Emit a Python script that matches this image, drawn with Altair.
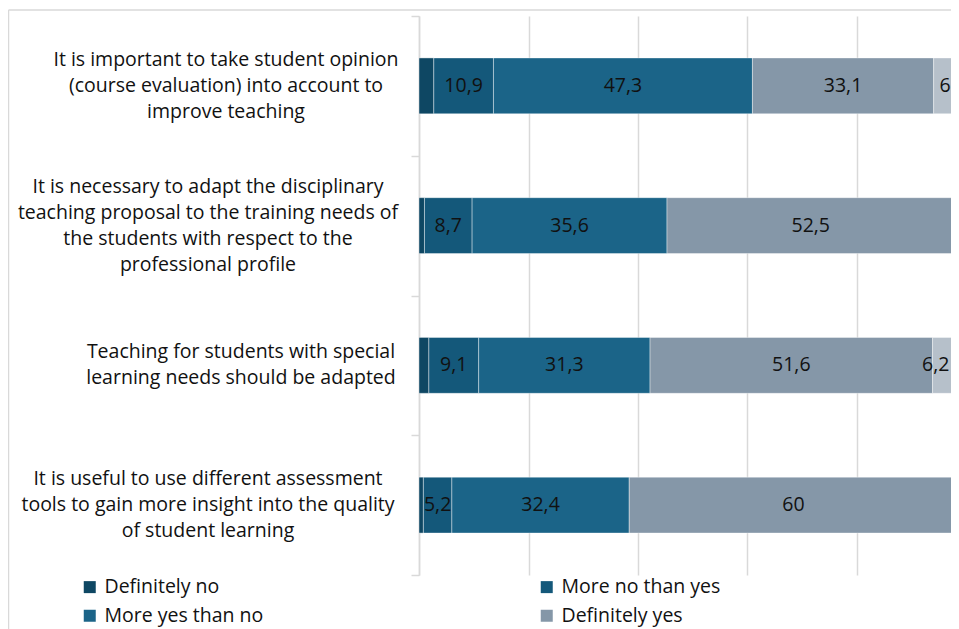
import altair as alt
import pandas as pd

# ---------------- data ----------------
questions = [
    "It is important to take student opinion\n(course evaluation) into account to\nimprove teaching",
    "It is necessary to adapt the disciplinary\nteaching proposal to the training needs of\nthe students with respect to the\nprofessional profile",
    "Teaching for students with special\nlearning needs should be adapted",
    "It is useful to use different assessment\ntools to gain more insight into the quality\nof student learning",
]
levels = ["Definitely no", "More no than yes", "More yes than no", "Definitely yes", "Don't know"]
definitely_no = [2.7, 1.0, 1.8, 0.8]
more_no_than_yes = [10.9, 8.7, 9.1, 5.2]
more_yes_than_no = [47.3, 35.6, 31.3, 32.4]
definitely_yes = [33.1, 52.5, 51.6, 60.0]
dont_know = [6.0, 2.2, 6.2, 1.6]

series = [definitely_no, more_no_than_yes, more_yes_than_no, definitely_yes, dont_know]
rows = []
for qi, q in enumerate(questions):
    for li, lev in enumerate(levels):
        rows.append({"question": q, "level": lev, "ord": li, "value": series[li][qi]})
df = pd.DataFrame(rows)

# ---------------- style / layout ----------------
FONT = "Open Sans"
FS = 19.5
TXT = "#111111"
GRID = "#d9d9d9"
colors = ["#0e4763", "#14587a", "#1b6488", "#8597a8", "#b6c0ca"]
LEFT, TOP = 411, 8
W = 943 - LEFT          # plot area reaches the right edge of the page
H = 559
SVG_H = 621
BOTTOM = SVG_H - TOP - H
PX_PER_UNIT = 5.475
XMAX = W / PX_PER_UNIT
LABEL_CX = [226, 208, 241, 208]  # page x of the centre of each category label block
LINE_H = 26

stacked = (
    alt.Chart(df)
    .transform_stack(stack="value", groupby=["question"],
                     sort=[alt.SortField("ord", order="ascending")], as_=["v0", "v1"])
    .transform_calculate(
        lbl="datum.value >= 5 ? replace(format(datum.value, '.1~f'), '.', ',') : ''",
    )
    .transform_calculate(
        mid=f"min((datum.v0 + datum.v1) / 2, {XMAX} - (length(datum.lbl) * 0.85 + 0.25))",
    )
)

ysort = questions
bars = stacked.mark_bar(clip=True, stroke="white", strokeWidth=0.8, strokeOpacity=0.5,
                        height=alt.RelativeBandSize(band=0.4)).encode(
    x=alt.X("v0:Q", scale=alt.Scale(domain=[0, XMAX], nice=False, zero=True),
            axis=alt.Axis(values=[0, 20, 40, 60, 80], grid=True, labels=False, ticks=False,
                          domain=False, title=None, gridColor=GRID, gridWidth=1.5)),
    x2="v1:Q",
    y=alt.Y("question:N", sort=ysort,
            scale=alt.Scale(paddingInner=0, paddingOuter=0),
            axis=alt.Axis(title=None, labels=False, domainColor=GRID, domainWidth=1.5,
                          tickColor=GRID, tickWidth=1.5, tickSize=8, tickBand="extent")),
    color=alt.Color(
        "level:N",
        scale=alt.Scale(domain=levels, range=colors),
        legend=alt.Legend(
            title=None, orient="none", direction="horizontal", legendX=80 - 419, legendY=561,
            columns=2, columnPadding=273, rowPadding=8, symbolType="square", symbolSize=144,
            symbolStrokeWidth=0, labelFont=FONT, labelFontSize=FS, labelColor=TXT,
            labelOffset=5, values=levels[:4],
        ),
    ),
    order=alt.Order("ord:Q"),
)

values_txt = stacked.mark_text(font=FONT, fontSize=FS, color=TXT, clip=True).encode(
    x=alt.X("mid:Q"),
    y=alt.Y("question:N", sort=ysort),
    text="lbl:N",
)

cat_labels = [
    alt.Chart(pd.DataFrame({"question": [q]})).mark_text(
        align="center", baseline="middle", lineBreak="\n", lineHeight=LINE_H,
        dy=-(q.count("\n")) * LINE_H / 2,
        font=FONT, fontSize=FS, color=TXT,
    ).encode(x=alt.value(cx - 419), y=alt.Y("question:N", sort=ysort), text="question:N")
    for q, cx in zip(questions, LABEL_CX)
]

frame_top = alt.Chart(pd.DataFrame({"a": [0]})).mark_rule(color=GRID, strokeWidth=1.5).encode(
    x=alt.value(-LEFT + 0.5), x2=alt.value(W), y=alt.value(-6))
frame_left = alt.Chart(pd.DataFrame({"a": [0]})).mark_rule(color=GRID, strokeWidth=1.5).encode(
    x=alt.value(-LEFT + 0.5), y=alt.value(-6), y2=alt.value(H + BOTTOM))

chart = alt.layer(frame_top, frame_left, bars, values_txt, *cat_labels).properties(
    width=W, height=H,
    autosize=alt.AutoSizeParams(type="none"),
    padding={"left": LEFT, "top": TOP, "right": 0, "bottom": BOTTOM},
    background="white",
).configure_view(stroke=None)

chart.save("out.html", embed_options={"renderer": "svg", "actions": False})
